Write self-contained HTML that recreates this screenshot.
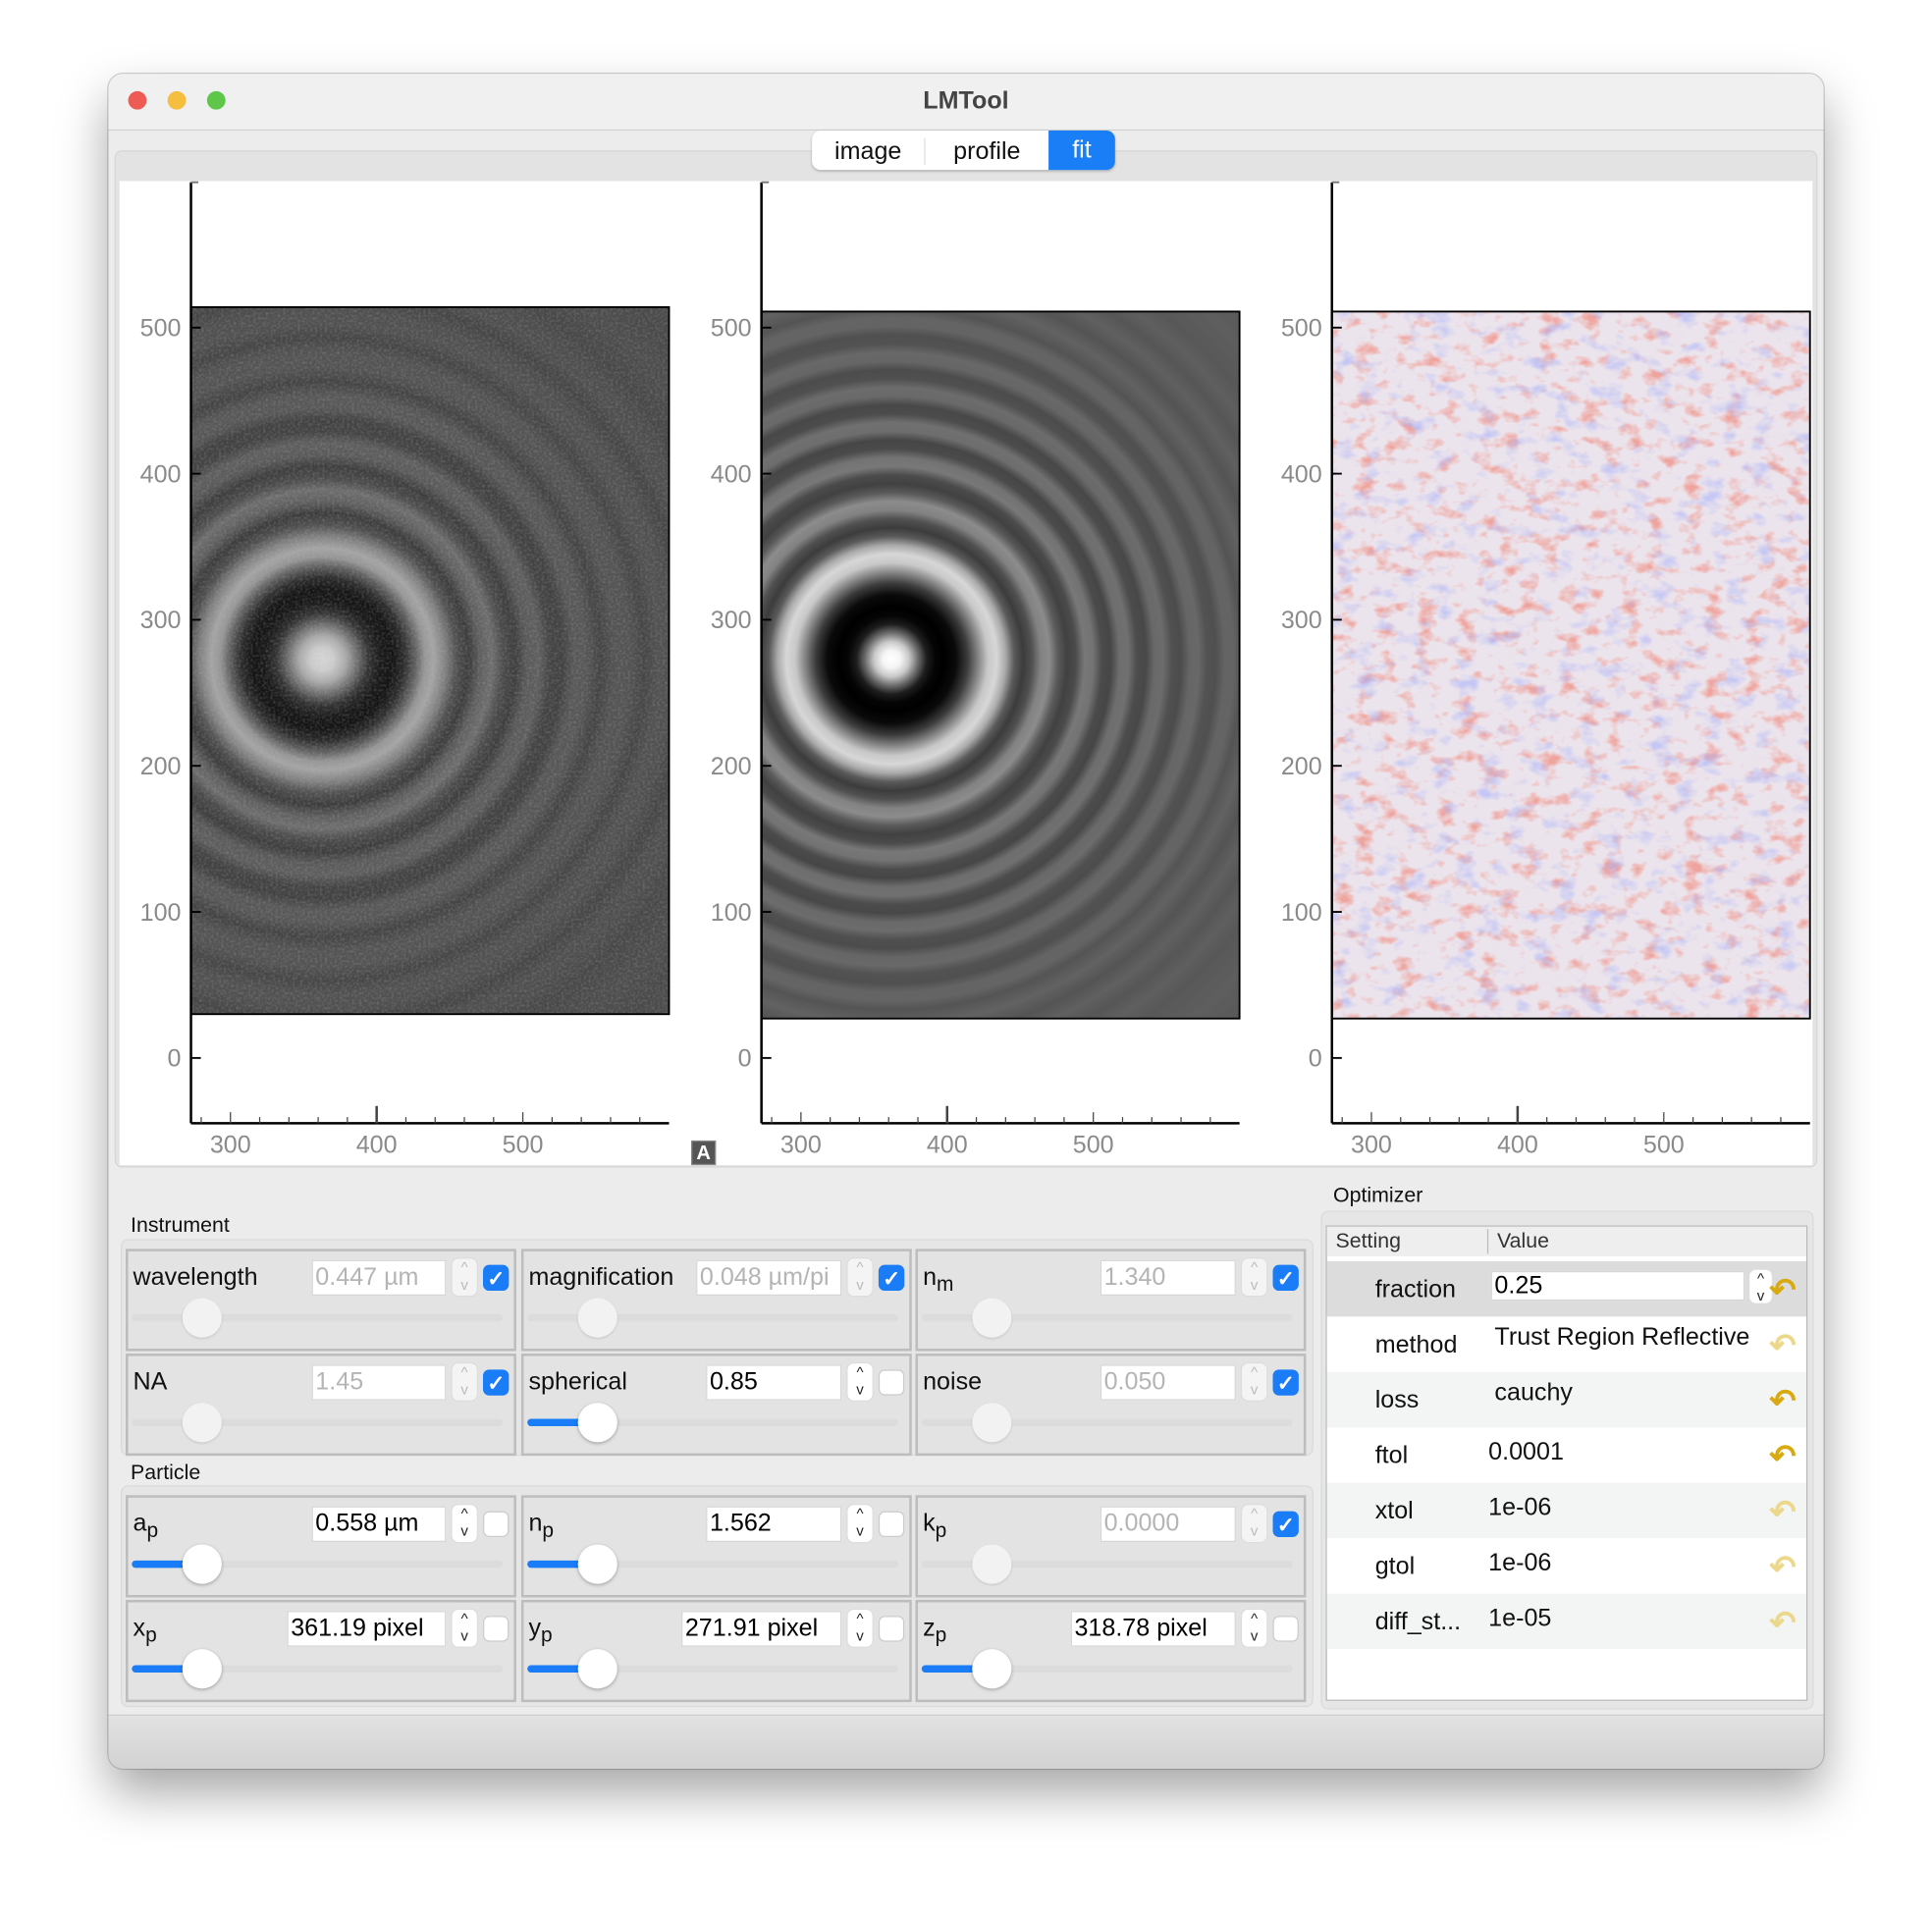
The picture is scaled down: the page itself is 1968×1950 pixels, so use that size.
<!DOCTYPE html>
<html><head><meta charset="utf-8"><title>LMTool</title>
<style>
html,body{margin:0;padding:0;width:1968px;height:1950px;overflow:hidden;background:#fff;font-family:"Liberation Sans",sans-serif;}
#scale{position:absolute;left:0;top:0;width:1568px;height:1554px;transform-origin:0 0;transform:scale(1.2551,1.2548);}
.abs{position:absolute;box-sizing:border-box;}
.win{left:88px;top:60px;width:1392px;height:1376px;border-radius:12px;background:#ececec;box-shadow:0 20px 40px rgba(0,0,0,0.35),0 0 0 1px rgba(0,0,0,0.18);overflow:hidden;}
.lbl{font-size:20px;color:#111;white-space:nowrap;}
.inp{background:#fff;border:1px solid #d6d6d6;font-size:20px;padding-left:2px;line-height:26px;white-space:nowrap;overflow:hidden;}
.dis{color:#b4b4b4;}
.spin{border-radius:6px;background:#fff;border:1px solid #ddd;font-size:12px;text-align:center;line-height:14px;color:#222;}
.spin.d{color:#bbb;background:#f4f4f4;}
.cb{width:21px;height:21px;border-radius:5px;background:#fff;border:1px solid #ccc;}
.cb.on{background:#1a7cf7;border-color:#1a7cf7;color:#fff;font-size:17px;text-align:center;line-height:21px;font-weight:bold;}
.track{height:6px;border-radius:3px;background:#dcdcdc;}
.fill{height:6px;border-radius:3px;background:#1a7cf7;}
.knob{width:32px;height:32px;border-radius:16px;background:#fff;box-shadow:0 1px 3px rgba(0,0,0,0.3);}
.knob.d{background:#f2f2f2;box-shadow:0 1px 2px rgba(0,0,0,0.12);}
.cell{border:2px solid #bdbdbd;background:#e3e3e3;}
.undo{font-size:26px;font-weight:bold;color:#d9a910;}
.undo.f{color:#ecd88a;}
</style></head><body>
<div id="scale">
<div class="abs win"></div>
<div class="abs" style="left:88px;top:60px;width:1392px;height:46px;background:#f0f0f0;border-bottom:1px solid #d0d0d0;border-radius:12px 12px 0 0;"></div>
<div class="abs" style="left:104px;top:74px;width:15px;height:15px;border-radius:8px;background:#ee5b53;"></div>
<div class="abs" style="left:136px;top:74px;width:15px;height:15px;border-radius:8px;background:#f5be3e;"></div>
<div class="abs" style="left:168px;top:74px;width:15px;height:15px;border-radius:8px;background:#5ec648;"></div>
<div class="abs" style="left:88px;top:71px;width:1392px;text-align:center;font-weight:bold;font-size:20px;color:#444;">LMTool</div>
<div class="abs" style="left:93px;top:122px;width:1382px;height:826px;background:#e3e3e3;border-radius:6px;border:1px solid #d6d6d6;"></div>
<div class="abs" style="left:97px;top:147px;width:1374px;height:799px;background:#fff;"></div>
<div class="abs" style="left:659px;top:106px;width:246px;height:32px;background:#fff;border-radius:7px;box-shadow:0 1px 2px rgba(0,0,0,0.25);"></div>
<div class="abs lbl" style="left:659px;top:112px;width:92px;text-align:center;border-right:1px solid #ddd;height:22px;line-height:22px;">image</div>
<div class="abs lbl" style="left:751px;top:112px;width:100px;text-align:center;line-height:22px;">profile</div>
<div class="abs lbl" style="left:851px;top:106px;width:54px;height:32px;line-height:33px;text-align:center;background:#1a7ff7;color:#fff;border-radius:0 7px 7px 0;">fit</div>

<svg class="abs" id="plots" style="left:0;top:0;" width="1568" height="1554">
<defs>
<filter id="noise" x="0" y="0" width="100%" height="100%"><feTurbulence type="fractalNoise" baseFrequency="0.06 0.09" numOctaves="3" seed="4"/><feColorMatrix type="matrix" values="0 0 0 0 0.88  0 0 0 0 0.25  0 0 0 0 0.2  0 0 0 3.4 -1.8"/></filter>
<filter id="noise2" x="0" y="0" width="100%" height="100%"><feTurbulence type="fractalNoise" baseFrequency="0.05 0.08" numOctaves="3" seed="9"/><feColorMatrix type="matrix" values="0 0 0 0 0.4  0 0 0 0 0.45  0 0 0 0 0.95  0 0 0 3.2 -1.75"/></filter>
<filter id="grain" x="0" y="0" width="100%" height="100%"><feTurbulence type="fractalNoise" baseFrequency="0.5" numOctaves="1" seed="2"/><feColorMatrix type="matrix" values="0 0 0 0 0.5  0 0 0 0 0.5  0 0 0 0 0.5  0 0 0 1.0 -0.4"/></filter>
</defs>
</svg>
<div class="abs" style="left:561px;top:926px;width:20px;height:20px;background:#555;color:#fff;font-weight:bold;font-size:16px;text-align:center;line-height:20px;border:1px solid #888;">A</div>

<div class="abs" style="left:88px;top:1392px;width:1392px;height:44px;background:linear-gradient(#e2e2e2,#d2d2d2);border-top:1px solid #c8c8c8;border-radius:0 0 12px 12px;"></div>
<div class="abs lbl" style="left:106px;top:985px;font-size:17px;">Instrument</div>
<div class="abs" style="left:98px;top:1006px;width:968px;height:176px;background:#e6e6e6;border-radius:6px;border:1px solid #dadada;"></div>
<div class="abs lbl" style="left:106px;top:1186px;font-size:17px;">Particle</div>
<div class="abs" style="left:98px;top:1206px;width:968px;height:180px;background:#e6e6e6;border-radius:6px;border:1px solid #dadada;"></div>
<div id="controls"></div>

<div class="abs lbl" style="left:1082px;top:961px;font-size:17px;">Optimizer</div>
<div class="abs" style="left:1072px;top:983px;width:400px;height:405px;background:#e6e6e6;border-radius:6px;border:1px solid #dadada;"></div>
<div class="abs" style="left:1076px;top:995px;width:391px;height:386px;background:#fff;border:1px solid #b8b8b8;"></div>
<div class="abs" style="left:1077px;top:996px;width:389px;height:24px;background:#eeeeee;"></div>
<div class="abs lbl" style="left:1084px;top:998px;font-size:17px;color:#333;">Setting</div>
<div class="abs" style="left:1207px;top:998px;width:1px;height:20px;background:#bbb;"></div>
<div class="abs lbl" style="left:1215px;top:998px;font-size:17px;color:#333;">Value</div>
<div id="opt"></div>
</div>
<script>
// ---------- chart data ----------
const xTicks = [300, 400, 500];
const yTicks = [0, 100, 200, 300, 400, 500];
const xMinor = [280,300,320,340,360,380,400,420,440,460,480,500,520,540,560,580];
const panelNames = ['data-image', 'model-image', 'residual-image'];
const imgX = [273, 600];
const imgY0 = [30, 514];
const imgY1 = [27, 511];
const centerData = [363, 273];
const centerModel = [362, 273];
// radial intensity profiles (radius in data units -> gray level 0..255)
const modelRadii  = [0, 6, 12, 18, 24, 30, 36, 44, 52, 60, 66, 72, 78, 84, 90, 96, 102, 108, 114, 120, 126, 132, 138, 144, 150, 156, 162, 168, 174, 180, 186, 192, 198, 204, 210, 216, 222, 228, 234, 240, 250, 260, 270, 280, 290, 300, 320, 340, 360, 380];
const modelLevels = [255, 245, 200, 110, 30, 5, 0, 10, 60, 140, 200, 215, 170, 90, 60, 80, 130, 140, 90, 65, 75, 120, 115, 75, 70, 110, 112, 76, 72, 105, 108, 80, 76, 102, 104, 82, 80, 100, 100, 84, 98, 84, 96, 86, 95, 88, 94, 89, 92, 90];
const dataRadii  = [0, 8, 16, 24, 32, 40, 48, 56, 64, 70, 76, 84, 92, 100, 108, 116, 124, 132, 140, 148, 156, 164, 172, 180, 190, 200, 210, 220, 230, 240, 250, 260, 270, 280, 300, 320, 340, 360, 380];
const dataLevels = [215, 205, 170, 110, 50, 25, 20, 45, 100, 150, 165, 130, 80, 60, 95, 110, 75, 62, 90, 95, 68, 66, 88, 88, 68, 84, 84, 70, 82, 80, 70, 80, 78, 72, 78, 74, 77, 75, 76];

const svg = document.getElementById('plots');
const NS = 'http://www.w3.org/2000/svg';
const defs = svg.querySelector('defs');
const axL = 155, axR = 543, axTop = 148, axBot = 912;
const offsets = [0, 463, 926];
function sx(v, o){ return axL + o + (v - 273) * 1.1865; }
function sy(v){ return 859 - v * 1.186; }
function mk(tag, attrs, parent){ const e = document.createElementNS(NS, tag); for (const k in attrs) e.setAttribute(k, attrs[k]); (parent||svg).appendChild(e); return e; }
function gray(l){ return 'rgb(' + l + ',' + l + ',' + l + ')'; }

offsets.forEach((o, i) => {
  const g = mk('g', {});
  
  
  const ext = i === 0 ? imgY0 : imgY1;
  const x0 = sx(imgX[0], o), x1 = sx(imgX[1], o), y0 = sy(ext[1]), y1 = sy(ext[0]);
  const clip = mk('clipPath', {id: 'clip' + i}, g);
  mk('rect', {x: x0, y: y0, width: x1 - x0, height: y1 - y0}, clip);
  const img = mk('g', {'clip-path': 'url(#clip' + i + ')'}, g);
  
  
  if (i === 2) {
    mk('rect', {x: x0, y: y0, width: x1 - x0, height: y1 - y0, fill: '#ece4ec'}, img);
    mk('rect', {x: x0, y: y0, width: x1 - x0, height: y1 - y0, filter: 'url(#noise)', opacity: 0.7}, img);
    mk('rect', {x: x0, y: y0, width: x1 - x0, height: y1 - y0, filter: 'url(#noise2)', opacity: 0.6}, img);
  } else {
    const c = i === 0 ? centerData : centerModel;
    const radii = i === 0 ? dataRadii : modelRadii;
    const levels = i === 0 ? dataLevels : modelLevels;
    const rMax = radii[radii.length - 1];
    const cx = sx(c[0], o), cy = sy(c[1]);
    const grad = mk('radialGradient', {id: 'prof' + i, gradientUnits: 'userSpaceOnUse', cx: cx, cy: cy, r: rMax * 1.186, fx: cx, fy: cy}, defs);
    radii.forEach((r, k) => {
      mk('stop', {offset: r / rMax, 'stop-color': gray(levels[k])}, grad);
    });
    const im = mk('rect', {x: x0, y: y0, width: x1 - x0, height: y1 - y0, fill: 'url(#prof' + i + ')'}, img);
    
    
    if (i === 0) mk('rect', {x: x0, y: y0, width: x1 - x0, height: y1 - y0, filter: 'url(#grain)', opacity: 0.55}, img);
  }
  mk('rect', {x: x0, y: y0, width: x1 - x0, height: y1 - y0, fill: 'none', stroke: '#000', 'stroke-width': 1.5}, g);
  const ya = mk('line', {x1: axL + o, y1: axTop, x2: axL + o, y2: axBot, stroke: '#000', 'stroke-width': 2}, g);
  
  
  const xa = mk('line', {x1: axL + o, y1: axBot, x2: axR + o, y2: axBot, stroke: '#000', 'stroke-width': 2}, g);
  
  
  mk('line', {x1: axL + o, y1: axTop, x2: axL + o + 6, y2: axTop, stroke: '#777', 'stroke-width': 1.5}, g);
  yTicks.forEach(t => {
    mk('line', {x1: axL + o, y1: sy(t), x2: axL + o + 8, y2: sy(t), stroke: '#000', 'stroke-width': 1.5}, g);
    const tx = mk('text', {x: axL + o - 8, y: sy(t) + 7, 'text-anchor': 'end', 'font-size': 20, fill: '#8a8a8a', 'font-family': 'Liberation Sans, sans-serif'}, g);
    tx.textContent = t;
    
    
  });
  xMinor.forEach(t => {
    const len = t === 400 ? 14 : (t % 100 === 0 ? 9 : 5);
    mk('line', {x1: sx(t, o), y1: axBot, x2: sx(t, o), y2: axBot - len, stroke: '#444', 'stroke-width': t === 400 ? 2 : 1}, g);
  });
  xTicks.forEach(t => {
    const tx = mk('text', {x: sx(t, o), y: axBot + 24, 'text-anchor': 'middle', 'font-size': 20, fill: '#8a8a8a', 'font-family': 'Liberation Sans, sans-serif'}, g);
    tx.textContent = t;
    
    
  });
});

// ---------- controls ----------
const colX = [102, 423, 743];
const rowY = [1014, 1099, 1214, 1299];
const controls = [
  ['wavelength','0.447 µm',1,0,253],['magnification','0.048 µm/pi',1,0,565],['n<sub>m</sub>','1.340',1,0,893],
  ['NA','1.45',1,0,253],['spherical','0.85',0,1,573],['noise','0.050',1,0,893],
  ['a<sub>p</sub>','0.558 µm',0,1,253],['n<sub>p</sub>','1.562',0,1,573],['k<sub>p</sub>','0.0000',1,0,893],
  ['x<sub>p</sub>','361.19 pixel',0,1,233],['y<sub>p</sub>','271.91 pixel',0,1,553],['z<sub>p</sub>','318.78 pixel',0,1,869]
];
const host = document.getElementById('controls');
controls.forEach((c, i) => {
  const x = colX[i % 3], y = rowY[Math.floor(i / 3)];
  const w = 317, h = 83;
  const slug = c[0].replace(/<[^>]+>/g, '').toLowerCase();
  let html = '';
  html += `<div class="abs cell" style="left:${x}px;top:${y}px;width:${w}px;height:${h}px;"></div>`;
  html += `<div class="abs lbl" style="left:${x+6}px;top:${y+12}px;">${c[0]}</div>`;
  const right = x + 260;
  html += `<div class="abs inp ${c[2] ? 'dis' : ''}" style="left:${c[4]}px;top:${y+9}px;width:${right - c[4]}px;height:29px;">${c[1]}</div>`;
  html += `<div class="abs spin ${c[2] ? 'd' : ''}" style="left:${x+264}px;top:${y+7}px;width:22px;height:32px;">^<br>v</div>`;
  html += `<div class="abs cb ${c[2] ? 'on' : ''}" style="left:${x+290}px;top:${y+13}px;">${c[2] ? '✓' : ''}</div>`;
  html += `<div class="abs track" style="left:${x+5}px;top:${y+53}px;width:301px;"></div>`;
  if (c[3]) html += `<div class="abs fill" style="left:${x+5}px;top:${y+53}px;width:58px;"></div>`;
  html += `<div class="abs knob ${c[3] ? '' : 'd'}" style="left:${x+46}px;top:${y+40}px;"></div>`;
  host.insertAdjacentHTML('beforeend', html);
});

// ---------- optimizer table ----------
const optSettings = ['fraction','method','loss','ftol','xtol','gtol','diff_st...'];
const optValues = ['0.25','Trust Region Reflective','cauchy','0.0001','1e-06','1e-06','1e-05'];
const optFaded = [0,1,0,0,1,1,1];
const opt = document.getElementById('opt');
optSettings.forEach((s, i) => {
  const y = 1024 + i * 45;
  const bg = i === 0 ? '#dcdcdc' : (i % 2 === 0 ? '#f3f4f4' : '#ffffff');
  let html = `<div class="abs" style="left:1077px;top:${y}px;width:389px;height:45px;background:${bg};"></div>`;
  html += `<div class="abs lbl" style="left:1116px;top:${y+12}px;">${s}</div>`;
  if (i === 0) {
    html += `<div class="abs inp" style="left:1210px;top:${y+8}px;width:206px;height:24px;line-height:22px;">${optValues[i]}</div>`;
    html += `<div class="abs spin" style="left:1419px;top:${y+6}px;width:20px;height:29px;">^<br>v</div>`;
  } else {
    html += `<div class="abs lbl" style="left:${i < 3 ? 1213 : 1208}px;top:${y + (i < 3 ? 6 : 9)}px;">${optValues[i]}</div>`;
  }
  html += `<div class="abs undo ${optFaded[i] ? 'f' : ''}" style="left:1436px;top:${y+8}px;">↶</div>`;
  opt.insertAdjacentHTML('beforeend', html);
});
</script>
</body></html>
